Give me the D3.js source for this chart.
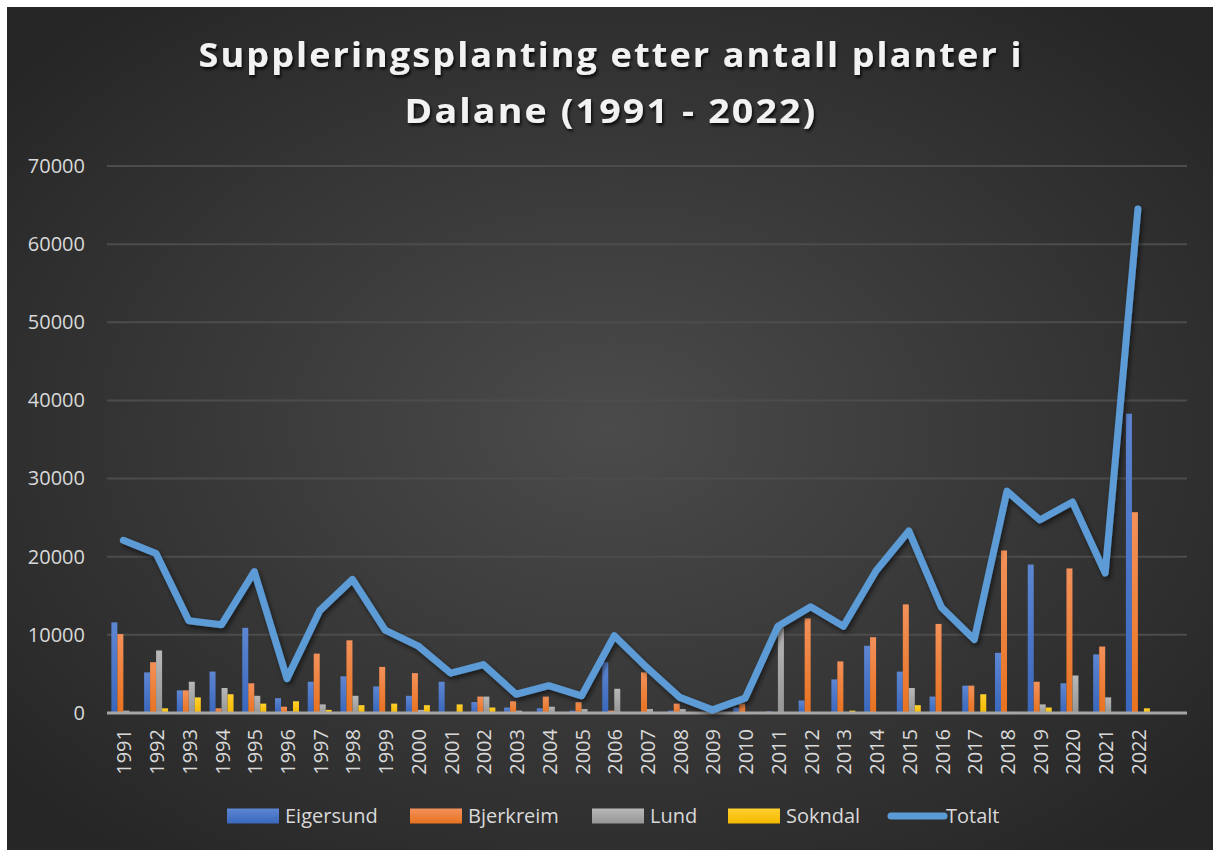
<!DOCTYPE html>
<html>
<head>
<meta charset="utf-8">
<script src="https://cdn.jsdelivr.net/npm/d3@7"></script>
<style>
  html, body { margin: 0; padding: 0; background: #fff; }
  svg { display: block; }
</style>
</head>
<body>
<svg id="chart" width="1213" height="850"></svg>
<script>
// --- data ---
const years = ['1991', '1992', '1993', '1994', '1995', '1996', '1997', '1998', '1999', '2000',
  '2001', '2002', '2003', '2004', '2005', '2006', '2007', '2008', '2009', '2010',
  '2011', '2012', '2013', '2014', '2015', '2016', '2017', '2018', '2019', '2020',
  '2021', '2022'];
const seriesNames = ['Eigersund', 'Bjerkreim', 'Lund', 'Sokndal'];
const eigersund = [11600, 5200, 2900, 5300, 10900, 1900, 4000, 4700, 3400, 2200,
  4000, 1400, 700, 600, 300, 6500, 0, 300, 0, 700,
  200, 1600, 4300, 8600, 5300, 2100, 3500, 7700, 19000, 3800,
  7500, 38300];
const bjerkreim = [10100, 6500, 2900, 600, 3800, 800, 7600, 9300, 5900, 5100,
  0, 2100, 1500, 2100, 1400, 300, 5200, 1200, 0, 1200,
  0, 12100, 6600, 9700, 13900, 11400, 3500, 20800, 4000, 18500,
  8500, 25700];
const lund = [300, 8000, 4000, 3200, 2200, 200, 1100, 2200, 0, 400,
  0, 2100, 300, 800, 500, 3100, 500, 500, 0, 0,
  10900, 0, 0, 0, 3200, 0, 0, 0, 1100, 4800,
  2000, 0];
const sokndal = [0, 600, 2000, 2400, 1200, 1500, 400, 1000, 1200, 1000,
  1100, 700, 0, 0, 0, 0, 0, 0, 0, 0,
  0, 0, 300, 0, 1000, 0, 2400, 0, 700, 0,
  0, 600];
const totalt = [22100, 20400, 11800, 11300, 18100, 4400, 13100, 17100, 10600, 8600,
  5100, 6200, 2400, 3500, 2200, 9900, 5800, 2000, 400, 1900,
  11100, 13600, 11100, 18200, 23300, 13500, 9400, 28400, 24700, 27000,
  17900, 64500];
const yTicks = [0, 10000, 20000, 30000, 40000, 50000, 60000, 70000];
// Excel left one empty category slot after 2022
const slots = years.concat(['']);

const colors = {
  Eigersund: ['#5d86d2', '#3a67bd'],
  Bjerkreim: ['#f3915a', '#e8721f'],
  Lund: ['#b8b8b8', '#969696'],
  Sokndal: ['#ffd02e', '#f5b800'],
};
const lineColor = '#5b9bd5';

const W = 1213, H = 850;
const m = { left: 107, right: 1187, top: 166, bottom: 713 };
const svg = d3.select('#chart');
const font = "'Open Sans', 'DejaVu Sans', sans-serif";

const defs = svg.append('defs');
const bg = defs.append('radialGradient').attr('id', 'bg')
  .attr('cx', '50%').attr('cy', '50%').attr('r', '65%');
bg.append('stop').attr('offset', '0%').attr('stop-color', '#4b4b4b');
bg.append('stop').attr('offset', '100%').attr('stop-color', '#262626');

seriesNames.forEach(name => {
  const g = defs.append('linearGradient').attr('id', 'g-' + name)
    .attr('x1', 0).attr('y1', 0).attr('x2', 0).attr('y2', 1);
  g.append('stop').attr('offset', '0%').attr('stop-color', colors[name][0]);
  g.append('stop').attr('offset', '100%').attr('stop-color', colors[name][1]);
});

const sh = defs.append('filter').attr('id', 'shadow')
  .attr('x', '-10%').attr('y', '-10%').attr('width', '120%').attr('height', '120%');
sh.append('feDropShadow').attr('dx', 2).attr('dy', 3).attr('stdDeviation', 2.5)
  .attr('flood-color', '#000').attr('flood-opacity', 0.55);
const tsh = defs.append('filter').attr('id', 'tshadow')
  .attr('x', '-5%').attr('y', '-20%').attr('width', '110%').attr('height', '140%');
tsh.append('feDropShadow').attr('dx', 1.5).attr('dy', 2.5).attr('stdDeviation', 1.5)
  .attr('flood-color', '#000').attr('flood-opacity', 0.8);

svg.append('rect').attr('x', 7).attr('y', 7).attr('width', W - 7).attr('height', H - 7)
  .attr('fill', 'url(#bg)');

// title
const title = svg.append('g').attr('filter', 'url(#tshadow)')
  .attr('fill', '#f2f2f2').style('font-family', font)
  .style('font-weight', 700).style('font-size', '34px').attr('text-anchor', 'middle');
[['Suppleringsplanting etter antall planter i', 67, 825],
 ['Dalane (1991 - 2022)', 123, 413]].forEach(([t, y, w]) => {
  const el = title.append('text').attr('x', 611).attr('y', y).text(t);
  el.style('letter-spacing', '2px');
  const len = el.node().getComputedTextLength();
  if (Math.abs(len - w) > 4) el.attr('textLength', w).attr('lengthAdjust', 'spacingAndGlyphs');
});

// scales
const x0 = d3.scaleBand().domain(slots).range([m.left, m.right])
  .paddingInner(0.267).paddingOuter(0.1335);
const x1 = d3.scaleBand().domain(seriesNames).range([0, x0.bandwidth()]);
const y = d3.scaleLinear().domain([0, 70000]).range([m.bottom, m.top]);

// gridlines
svg.append('g').selectAll('line').data(yTicks.filter(d => d > 0)).join('line')
  .attr('x1', m.left).attr('x2', m.right)
  .attr('y1', d => y(d)).attr('y2', d => y(d))
  .attr('stroke', '#4c4c4c').attr('stroke-width', 2);

// y labels
const yAxis = svg.append('g').attr('transform', `translate(${m.left - 22},0)`)
  .call(d3.axisLeft(y).tickValues(yTicks).tickSize(0).tickPadding(0).tickFormat(d3.format('d')));
yAxis.select('.domain').remove();
yAxis.selectAll('text').attr('fill', '#d9d9d9').style('font-family', font).style('font-size', '20px');

// bars
const data = { Eigersund: eigersund, Bjerkreim: bjerkreim, Lund: lund, Sokndal: sokndal };
const groups = svg.append('g').selectAll('g').data(years).join('g')
  .attr('transform', d => `translate(${x0(d)},0)`);
groups.selectAll('rect')
  .data((yr, i) => seriesNames.map(s => ({ s, v: data[s][i] })))
  .join('rect')
  .attr('x', d => x1(d.s)).attr('width', x1.bandwidth())
  .attr('y', d => y(d.v)).attr('height', d => y(0) - y(d.v))
  .attr('fill', d => `url(#g-${d.s})`);

// x axis line + labels
svg.append('line').attr('x1', m.left).attr('x2', m.right)
  .attr('y1', y(0)).attr('y2', y(0)).attr('stroke', '#a6a6a6').attr('stroke-width', 3);
const xAxis = svg.append('g').attr('transform', `translate(0,${y(0)})`)
  .call(d3.axisBottom(x0).tickSize(0).tickPadding(0));
xAxis.select('.domain').remove();
xAxis.selectAll('text')
  .attr('fill', '#d9d9d9').style('font-family', font).style('font-size', '20px')
  .attr('text-anchor', 'end').attr('dy', '0.35em')
  .attr('transform', 'translate(1,16) rotate(-90)').attr('x', 0).attr('y', 0);

// Totalt line
const line = d3.line()
  .x((d, i) => x0(years[i]) + x0.bandwidth() / 2)
  .y(d => y(d));
svg.append('path').datum(totalt).attr('d', line)
  .attr('fill', 'none').attr('stroke', lineColor).attr('stroke-width', 7)
  .attr('stroke-linejoin', 'round').attr('stroke-linecap', 'round')
  .attr('filter', 'url(#shadow)');

// legend
const legend = svg.append('g').style('font-family', font).style('font-size', '20px');
const legendItems = [
  { name: 'Eigersund', x: 227 }, { name: 'Bjerkreim', x: 410 },
  { name: 'Lund', x: 592 }, { name: 'Sokndal', x: 728 }, { name: 'Totalt', x: 888 },
];
legendItems.forEach(it => {
  const g = legend.append('g').attr('transform', `translate(${it.x},816)`);
  if (it.name === 'Totalt') {
    g.append('line').attr('x1', 3).attr('x2', 56).attr('stroke', lineColor)
      .attr('stroke-width', 7).attr('stroke-linecap', 'round');
  } else {
    g.append('rect').attr('y', -7.5).attr('width', 52).attr('height', 15)
      .attr('fill', `url(#g-${it.name})`);
  }
  g.append('text').attr('x', 58).attr('dy', '0.35em').attr('fill', '#d9d9d9').text(it.name);
});
</script>
</body>
</html>
